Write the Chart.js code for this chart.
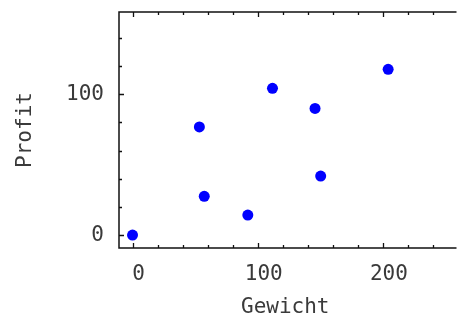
<!DOCTYPE html>
<html><head><meta charset="utf-8">
<script src="https://cdn.jsdelivr.net/npm/chart.js@4"></script>
<style>html,body{margin:0;padding:0;background:#fff;overflow:hidden}#wrap{width:457px;height:320px;position:relative}</style>
</head><body><div id="wrap"><canvas id="c"></canvas></div>
<script>
const gewicht = [0, 53.4, 57.3, 92.1, 111.8, 145.8, 150.3, 204.2];
const profit  = [0, 76.8, 27.5, 14.2, 104.3, 90.0, 41.9, 117.8];
const xTickLabels = [0, 100, 200];
const yTickLabels = [0, 100];
const xTitle = 'Gewicht';
const yTitle = 'Profit';

const FONT = "'DejaVu Sans Mono', monospace";
const TXT = '#3a3a3a';

function stepTicks(s) {
  const t = [];
  for (let v = Math.ceil(s.min / 20) * 20; v <= s.max; v += 20) t.push({value: v});
  s.ticks = t;
}
function noPad(s) {
  s.paddingTop = 0; s.paddingBottom = 0; s.paddingLeft = 0; s.paddingRight = 0;
}

const frameTicks = {
  id: 'frameTicks',
  afterDraw(chart) {
    const {ctx, chartArea: a, scales: {x, y}} = chart;
    ctx.save();
    ctx.strokeStyle = '#111';
    ctx.lineWidth = 1.5;
    ctx.beginPath();
    ctx.moveTo(a.right + 5, a.top);
    ctx.lineTo(a.left, a.top);
    ctx.lineTo(a.left, a.bottom);
    ctx.lineTo(a.right + 5, a.bottom);
    ctx.stroke();
    ctx.lineWidth = 1.3;
    ctx.beginPath();
    x.ticks.forEach(t => {
      const px = Math.round(x.getPixelForValue(t.value)) + 0.5;
      const len = (t.value % 100 === 0) ? 5 : 3;
      ctx.moveTo(px, a.bottom); ctx.lineTo(px, a.bottom - len);
      ctx.moveTo(px, a.top); ctx.lineTo(px, a.top + len);
    });
    y.ticks.forEach(t => {
      const py = Math.round(y.getPixelForValue(t.value)) + 0.5;
      const len = (t.value % 100 === 0) ? 5 : 3;
      ctx.moveTo(a.left, py); ctx.lineTo(a.left + len, py);
    });
    ctx.stroke();
    ctx.restore();
  }
};

new Chart(document.getElementById('c'), {
  type: 'scatter',
  data: {
    datasets: [{
      data: gewicht.map((g, i) => ({x: g, y: profit[i]})),
      backgroundColor: '#0000ff',
      borderWidth: 0,
      pointRadius: 5.5,
      pointHoverRadius: 5.5
    }]
  },
  options: {
    responsive: true,
    maintainAspectRatio: false,
    animation: false,
    layout: {padding: {top: 12, right: 0, left: 0, bottom: 0}},
    plugins: {legend: {display: false}, tooltip: {enabled: false}},
    scales: {
      x: {
        type: 'linear', min: -10.8, max: 254.8,
        grid: {display: false, drawTicks: false},
        border: {display: false},
        afterBuildTicks: stepTicks,
        ticks: {
          autoSkip: false, maxRotation: 0, padding: 14, labelOffset: 6,
          color: TXT, font: {family: FONT, size: 21},
          callback: v => xTickLabels.includes(v) ? String(v) : ''
        },
        title: {display: true, text: xTitle, color: TXT, font: {family: FONT, size: 21}, padding: {top: 0, bottom: 0}},
        afterFit: s => { s.height = 72; noPad(s); }
      },
      y: {
        type: 'linear', min: -9.2, max: 158.5,
        grid: {display: false, drawTicks: false},
        border: {display: false},
        afterBuildTicks: stepTicks,
        ticks: {
          autoSkip: false, padding: 15,
          color: TXT, font: {family: FONT, size: 21},
          callback: v => yTickLabels.includes(v) ? String(v) : ''
        },
        title: {display: true, text: yTitle, color: TXT, font: {family: FONT, size: 21}, padding: {top: 13, bottom: 0}},
        afterFit: s => { s.width = 119; noPad(s); }
      }
    }
  },
  plugins: [frameTicks]
});
</script>
</body></html>
